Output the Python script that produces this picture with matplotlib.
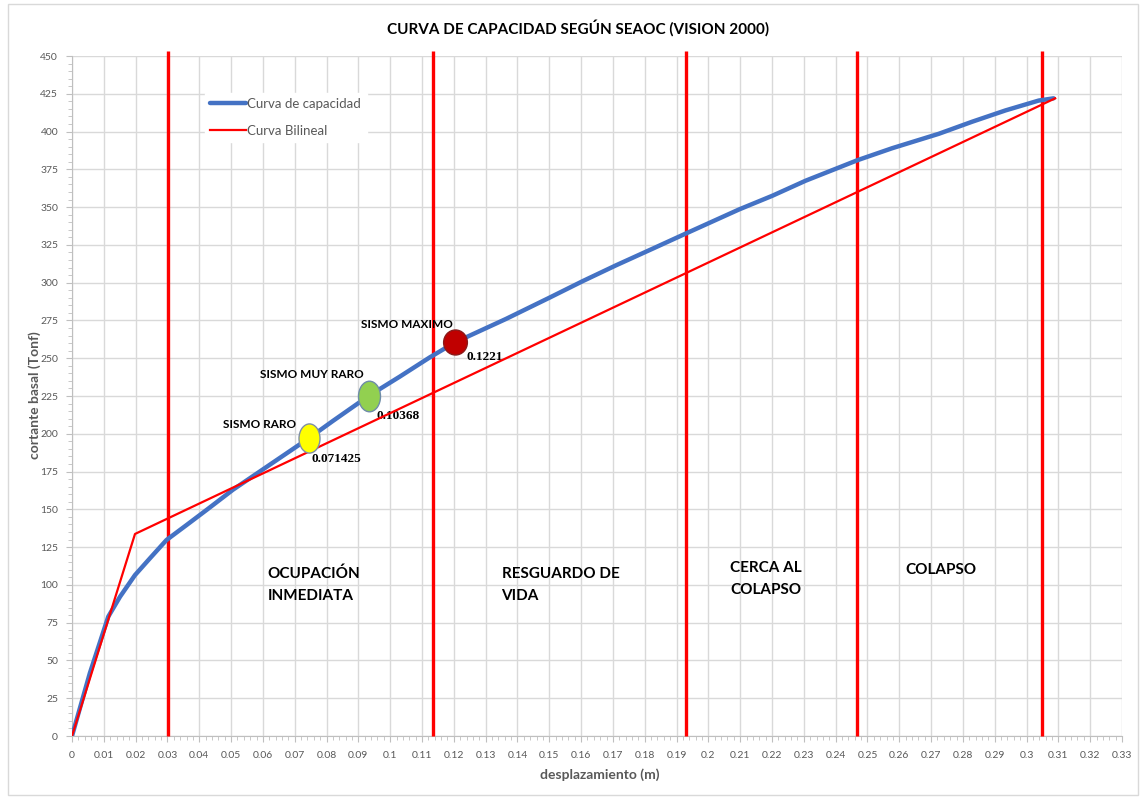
import numpy as np
import matplotlib
matplotlib.use("Agg")
import matplotlib.pyplot as plt
from matplotlib.path import Path
from matplotlib.transforms import Affine2D
from matplotlib.ticker import MultipleLocator, FixedLocator
import matplotlib.patches as mpatches

plt.rcParams['font.family'] = ['Lato', 'DejaVu Sans']

# ---- data ----
cap_x = [0, 0.0056, 0.0114, 0.0151, 0.0198, 0.0245, 0.0297, 0.036, 0.0423, 0.0506,
         0.059, 0.0653, 0.0744, 0.082, 0.0932, 0.103, 0.1124, 0.1204, 0.1364, 0.150,
         0.1605, 0.171, 0.1825, 0.1929, 0.2097, 0.2201, 0.2306, 0.2468, 0.2578,
         0.2724, 0.2829, 0.2934, 0.3038, 0.3085]
cap_y = [0, 41.5, 79, 92.2, 106.5, 117.6, 129.7, 139.6, 149.6, 163,
         175, 184, 197, 208.5, 225, 237.8, 250.5, 260.5, 276, 290,
         301, 311.5, 322.5, 332.5, 348.5, 357.5, 367.5, 381, 389,
         398.5, 406.5, 414, 420.5, 422]
bil_x = [0, 0.0198, 0.309]
bil_y = [0, 133.7, 422]
limit_x = [0.0302, 0.1135, 0.1929, 0.2468, 0.3049]

sismo_x = [0.0744, 0.0932, 0.1204]
sismo_y = [197.4, 225, 260.5]
sismo_names = ["SISMO RARO", "SISMO MUY RARO", "SISMO MAXIMO"]
sismo_vals = ["0.071425", "0.10368", "0.1221"]
sismo_colors = ["#FFFF00", "#92D050", "#C00000"]

zone_names = ["OCUPACIÓN\nINMEDIATA", "RESGUARDO DE\nVIDA", "CERCA AL\nCOLAPSO", "COLAPSO"]

x_ticks = [round(i * 0.01, 2) for i in range(34)]
y_ticks = list(range(0, 451, 25))

# ---- figure ----
W, H = 1142, 797
fig = plt.figure(figsize=(W / 100, H / 100), dpi=100)
ax = fig.add_axes([72 / W, 1 - 736 / H, (1122 - 72) / W, (736 - 56) / H])

gray = "#595959"
grid_c = "#D9D9D9"

ax.set_xlim(0, 0.33)
ax.set_ylim(0, 450)
ax.xaxis.set_major_locator(FixedLocator(x_ticks))
ax.set_xticklabels([f"{v:g}" for v in x_ticks])
ax.yaxis.set_major_locator(FixedLocator(y_ticks))
ax.set_yticklabels([str(v) for v in y_ticks])
ax.xaxis.set_minor_locator(MultipleLocator(0.002))
ax.yaxis.set_minor_locator(MultipleLocator(5))
ax.grid(True, which='major', color=grid_c, linewidth=1.0)
ax.set_axisbelow(True)
for s in ['top', 'right']:
    ax.spines[s].set_visible(False)
for s in ['left', 'bottom']:
    ax.spines[s].set_color("#BFBFBF")
ax.tick_params(axis='both', which='major', length=4, color="#BFBFBF",
               labelsize=7.5, labelcolor=gray)
ax.tick_params(axis='both', which='minor', length=3, color="#BFBFBF")
ax.tick_params(axis='x', pad=7)
ax.tick_params(axis='y', pad=6)

# zone limit lines
for lx in limit_x:
    ax.plot([lx, lx], [0, 453], color="#FF0000", linewidth=2.4, clip_on=False,
            solid_capstyle='butt', zorder=3)

# curves
ax.plot(cap_x, cap_y, color="#4472C4", linewidth=3.2, label="Curva de capacidad",
        solid_capstyle='round', solid_joinstyle='round', zorder=4)
ax.plot(bil_x, bil_y, color="#FF0000", linewidth=1.6, label="Curva Bilineal", zorder=4)

# ellipse markers (width ratio, height in px)
marker_shapes = [(0.72, 21), (0.72, 22), (0.95, 18)]
edge_cols = ["#7F8FA6", "#6E8CA8", "#8B1A1A"]
for x, y, c, (r, sz), ec in zip(sismo_x, sismo_y, sismo_colors, marker_shapes, edge_cols):
    ell = Path.unit_circle().transformed(Affine2D().scale(r, 1.0))
    ax.plot([x], [y], marker=ell, markersize=sz, markerfacecolor=c,
            markeredgecolor=ec, markeredgewidth=1.0, linestyle='none', zorder=5)

# marker annotations
name_pos = [(0.0703, 206), (0.0918, 239.5), (0.1197, 272)]
val_pos = [(0.0753, 183), (0.0958, 211.5), (0.1240, 250.5)]
for (nx, ny), (vx, vy), name, val in zip(name_pos, val_pos, sismo_names, sismo_vals):
    ax.text(nx, ny, name, ha='right', va='center', fontsize=8.5,
            fontweight='bold', color='black')
    ax.text(vx, vy, val, ha='left', va='center', fontsize=9.5,
            fontweight='bold', color='black', family=['Liberation Serif'])

# zone labels
zone_pos = [(0.0615, 100), (0.1350, 100), (0.2069, 104), (0.2620, 110)]
for (zx, zy), name in zip(zone_pos, zone_names):
    ax.text(zx, zy, name, ha='left', va='center', fontsize=11, fontweight='bold',
            color='black', linespacing=1.75)

# legend
leg = ax.legend(loc='upper left', bbox_to_anchor=(198 / W, 1 - 86 / H),
                bbox_transform=fig.transFigure, frameon=True, fontsize=9.5,
                handlelength=2.7, handletextpad=0.15, labelspacing=1.15,
                borderpad=0.4, fancybox=False)
leg.get_frame().set_edgecolor('white')
leg.get_frame().set_facecolor('white')
leg.get_frame().set_alpha(1.0)
for t in leg.get_texts():
    t.set_color(gray)

# titles
fig.text(578 / W, 1 - 28 / H, "CURVA DE CAPACIDAD SEGÚN SEAOC (VISION 2000)",
         ha='center', va='center', fontsize=11, fontweight='bold', color='black')
fig.text(600 / W, 1 - 775 / H, "desplazamiento (m)", ha='center', va='center',
         fontsize=10, fontweight='bold', color=gray)
fig.text(35 / W, 1 - 395 / H, "cortante basal (Tonf)", ha='center', va='center',
         rotation=90, fontsize=10, fontweight='bold', color=gray)

# chart border
fig.patches.append(mpatches.Rectangle((8 / W, 2 / H), (W - 12) / W, (H - 6) / H,
                                      transform=fig.transFigure, fill=False,
                                      edgecolor="#D9D9D9", linewidth=1.0))

fig.savefig("out.png", dpi=100)
